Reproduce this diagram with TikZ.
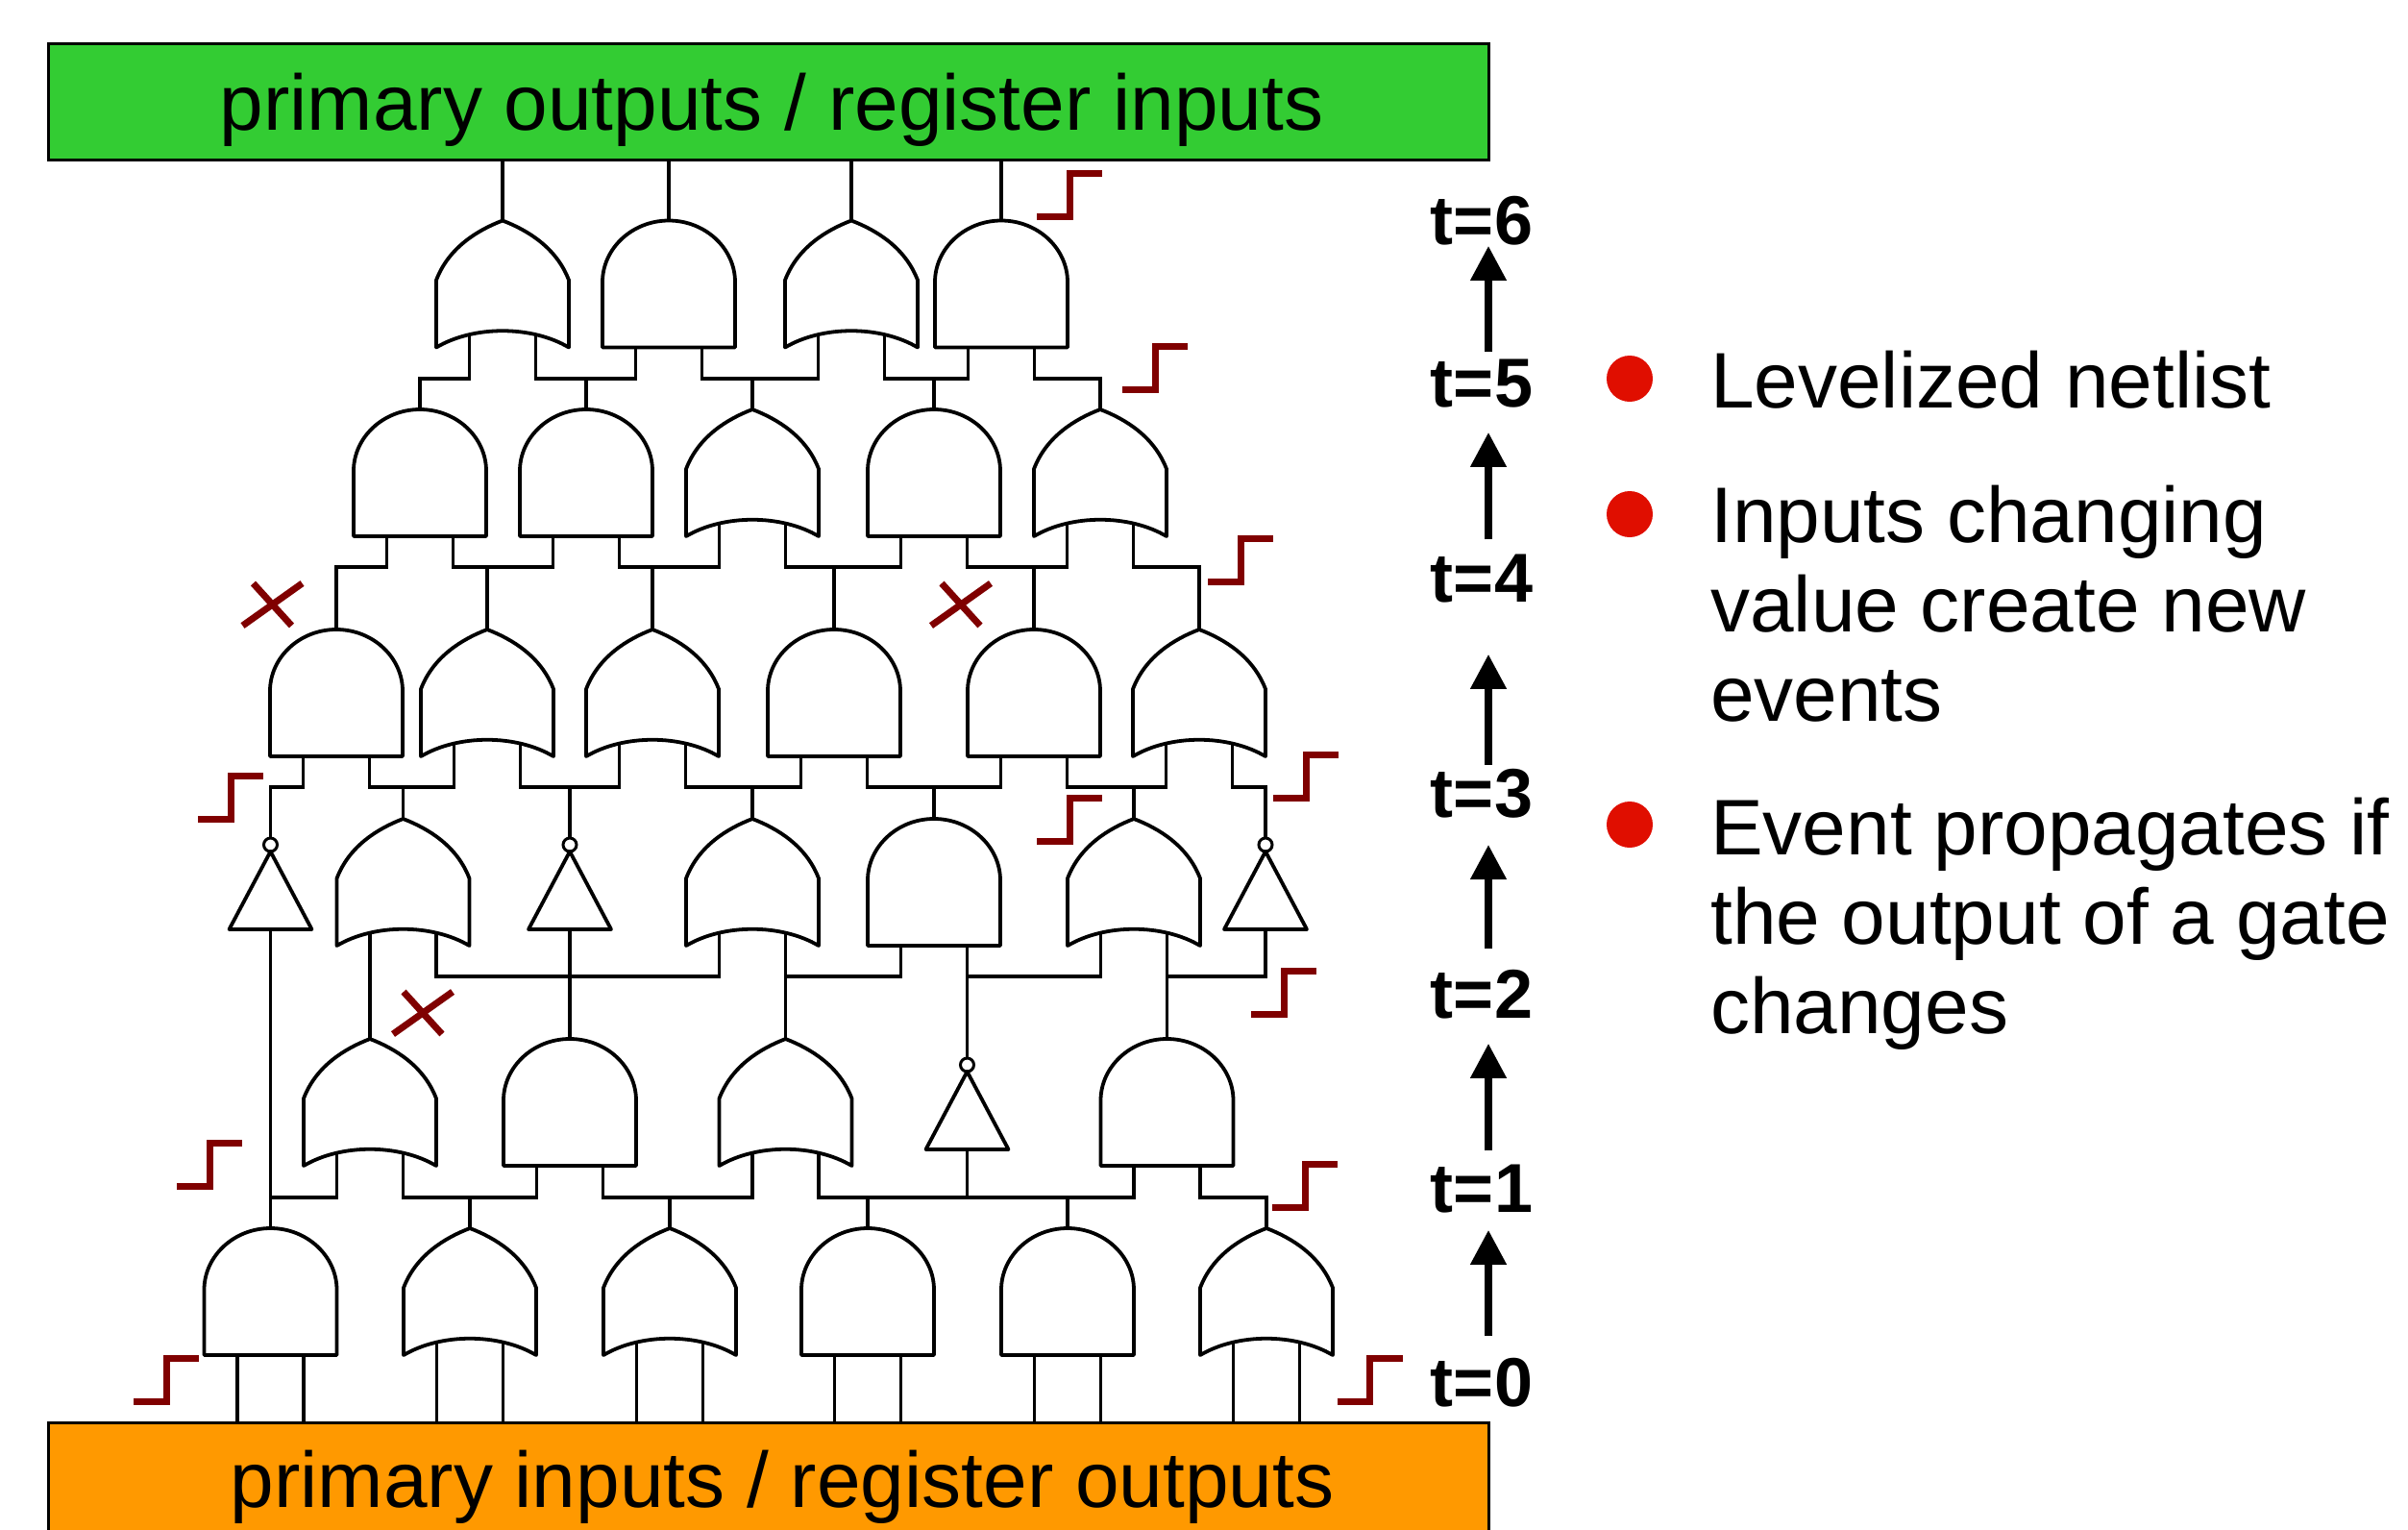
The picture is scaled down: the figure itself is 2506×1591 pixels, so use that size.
\documentclass[tikz,border=0pt]{standalone}
\usepackage{fontspec}
\setmainfont{Liberation Sans}
\usetikzlibrary{arrows.meta}

\definecolor{boxgreen}{HTML}{33CC33}
\definecolor{boxorange}{HTML}{FF9900}
\definecolor{eventred}{HTML}{800000}
\definecolor{bulletred}{HTML}{E00E00}

\tikzset{
  gatebox/.style={inner sep=0, outer sep=0, minimum width=138pt, minimum height=132pt},
  notbox/.style={inner sep=0, outer sep=0, minimum width=86pt, minimum height=95pt},
  gateline/.style={line width=3.8pt, line join=round},
  wire/.style={line width=3.2pt, line join=miter},
  railbox/.style={draw, line width=3pt},
  raillabel/.style={inner sep=0, anchor=base, font=\fontsize{82}{92}\selectfont},
  timelabel/.style={inner sep=0, anchor=base, font=\fontsize{72}{80}\selectfont\bfseries},
  timearrow/.style={line width=7.5pt, -{Triangle[length=36pt,width=36pt]}},
  bullettext/.style={inner sep=0, anchor=base west, align=left, font=\fontsize{82}{93}\selectfont},
  bulletdot/.style={circle, fill=bulletred, inner sep=0, minimum size=48pt},
  eventline/.style={draw=eventred, line width=7pt},
  risestep/.pic={\draw[eventline] (-34,22.5) -- (0,22.5) -- (0,-22.5) -- (34,-22.5);},
  deadmark/.pic={\draw[eventline] (-31,22) -- (31,-22) (-20,-22) -- (20,22);}
}

% name, x, y of the gate centre
\newcommand{\andgate}[3]{
  \node[gatebox] (#1) at (#2,#3) {};
  \draw[gateline] (#1.south west) -- (#1.south east) -- ++(0,-68)
    .. controls +(0,-35) and +(38,0) .. (#1.north)
    .. controls +(-38,0) and +(0,-35) .. ([yshift=68pt]#1.south west) -- cycle;
  \coordinate (#1l) at ([xshift=-34.5pt]#1.south);
  \coordinate (#1r) at ([xshift=34.5pt]#1.south);
}
\newcommand{\orgate}[3]{
  \node[gatebox] (#1) at (#2,#3) {};
  \draw[gateline] (#1.south west) .. controls +(39,-23) and +(-39,-23) .. (#1.south east)
    -- ++(0,-70) .. controls +(-13,-34) and +(26,10) .. (#1.north)
    .. controls +(-26,10) and +(13,-34) .. ([yshift=70pt]#1.south west) -- cycle;
  \coordinate (#1l) at ([xshift=-34.5pt,yshift=13.5pt]#1.south);
  \coordinate (#1r) at ([xshift=34.5pt,yshift=13.5pt]#1.south);
}
\newcommand{\notgate}[3]{
  \node[notbox] (#1) at (#2,#3) {};
  \draw[gateline] (#1.south west) -- (#1.south east) -- ([yshift=-14pt]#1.north) -- cycle;
  \draw[line width=3pt] ([yshift=-7pt]#1.north) circle (7);
}

\begin{document}
\begin{tikzpicture}[x=1pt, y=-1pt]
    \clip (0,0) rectangle (2506,1591);
    \fill[white] (0,0) rectangle (2506,1591);

    % rails
    \node[railbox, fill=boxgreen, inner sep=0, minimum width=1499pt, minimum height=121pt] (outrail) at (799.5,105.5) {};
    \node[railbox, fill=boxorange, inner sep=0, minimum width=1499pt, minimum height=240pt] (inrail) at (799.5,1600) {};
    \node[raillabel] (outlabel) at (803,135) {primary outputs / register inputs};
    \node[raillabel] (inlabel) at (814,1568) {primary inputs / register outputs};

    % bus heights
    \coordinate (bus5) at (0,394);
    \coordinate (bus4) at (0,590);
    \coordinate (bus3) at (0,819);
    \coordinate (bus2) at (0,1016);
    \coordinate (bus1) at (0,1246);

    % gates, bottom row first
    \andgate{a1}{281.5}{1344}
    \orgate{a2}{489}{1344}
    \orgate{a3}{697}{1344}
    \andgate{a4}{903}{1344}
    \andgate{a5}{1111}{1344}
    \orgate{a6}{1318}{1344}

    \orgate{b1}{385}{1147}
    \andgate{b2}{593}{1147}
    \orgate{b3}{817.5}{1147}
    \notgate{b4}{1006.5}{1148.5}
    \andgate{b5}{1214.5}{1147}

    \notgate{c1}{281.5}{919.5}
    \orgate{c2}{419.5}{918}
    \notgate{c3}{593}{919.5}
    \orgate{c4}{783}{918}
    \andgate{c5}{972}{918}
    \orgate{c6}{1180}{918}
    \notgate{c7}{1317}{919.5}

    \andgate{d1}{350}{721}
    \orgate{d2}{507}{721}
    \orgate{d3}{679}{721}
    \andgate{d4}{868}{721}
    \andgate{d5}{1076}{721}
    \orgate{d6}{1248}{721}

    \andgate{e1}{437}{492}
    \andgate{e2}{610}{492}
    \orgate{e3}{783}{492}
    \andgate{e4}{972}{492}
    \orgate{e5}{1145}{492}

    \orgate{f1}{523}{295.5}
    \andgate{f2}{696}{295.5}
    \orgate{f3}{886}{295.5}
    \andgate{f4}{1042}{295.5}

    % outputs into the top rail
    \draw[wire] (f1.north) -- (f1.north |- outrail.south);
    \draw[wire] (f2.north) -- (f2.north |- outrail.south);
    \draw[wire] (f3.north) -- (f3.north |- outrail.south);
    \draw[wire] (f4.north) -- (f4.north |- outrail.south);

    % row e to row f
    \draw[wire] (e1.north) -- (e1.north |- bus5) -| (f1l);
    \draw[wire] (f1r) -- (f1r |- bus5) -| (f2l);
    \draw[wire] (e2.north) -- (e2.north |- bus5);
    \draw[wire] (f2r) -- (f2r |- bus5) -| (f3l);
    \draw[wire] (e3.north) -- (e3.north |- bus5);
    \draw[wire] (f3r) -- (f3r |- bus5) -| (f4l);
    \draw[wire] (e4.north) -- (e4.north |- bus5);
    \draw[wire] (f4r) -- (f4r |- bus5) -| (e5.north);

    % row d to row e
    \draw[wire] (d1.north) -- (d1.north |- bus4) -| (e1l);
    \draw[wire] (e1r) -- (e1r |- bus4) -| (e2l);
    \draw[wire] (d2.north) -- (d2.north |- bus4);
    \draw[wire] (e2r) -- (e2r |- bus4) -| (e3l);
    \draw[wire] (d3.north) -- (d3.north |- bus4);
    \draw[wire] (e3r) -- (e3r |- bus4) -| (e4l);
    \draw[wire] (d4.north) -- (d4.north |- bus4);
    \draw[wire] (e4r) -- (e4r |- bus4) -| (e5l);
    \draw[wire] (d5.north) -- (d5.north |- bus4);
    \draw[wire] (e5r) -- (e5r |- bus4) -| (d6.north);

    % row c to row d
    \draw[wire] (c1.north) -- (c1.north |- bus3) -| (d1l);
    \draw[wire] (d1r) -- (d1r |- bus3) -| (d2l);
    \draw[wire] (c2.north) -- (c2.north |- bus3);
    \draw[wire] (d2r) -- (d2r |- bus3) -| (d3l);
    \draw[wire] (c3.north) -- (c3.north |- bus3);
    \draw[wire] (d3r) -- (d3r |- bus3) -| (d4l);
    \draw[wire] (c4.north) -- (c4.north |- bus3);
    \draw[wire] (d4r) -- (d4r |- bus3) -| (d5l);
    \draw[wire] (c5.north) -- (c5.north |- bus3);
    \draw[wire] (d5r) -- (d5r |- bus3) -| (d6l);
    \draw[wire] (c6.north) -- (c6.north |- bus3);
    \draw[wire] (d6r) -- (d6r |- bus3) -| (c7.north);

    % row b to row c
    \draw[wire] (b1.north) -- (c2l);
    \draw[wire] (c2r) -- (c2r |- bus2) -| (c4l);
    \draw[wire] (b2.north) -- (c3.south);
    \draw[wire] (b3.north) -- (c4r);
    \draw[wire] (c4r |- bus2) -| (c5l);
    \draw[wire] (b4.north) -- (c5r);
    \draw[wire] (c5r |- bus2) -| (c6l);
    \draw[wire] (b5.north) -- (c6r);
    \draw[wire] (c6r |- bus2) -| (c7.south);

    % row a to row b
    \draw[wire] (a1.north) -- (c1.south);
    \draw[wire] (c1.south |- bus1) -| (b1l);
    \draw[wire] (b1r) -- (b1r |- bus1) -| (b2l);
    \draw[wire] (a2.north) -- (a2.north |- bus1);
    \draw[wire] (b2r) -- (b2r |- bus1) -| (b3l);
    \draw[wire] (a3.north) -- (a3.north |- bus1);
    \draw[wire] (b3r) -- (b3r |- bus1) -| (b5l);
    \draw[wire] (a4.north) -- (a4.north |- bus1);
    \draw[wire] (b4.south) -- (b4.south |- bus1);
    \draw[wire] (a5.north) -- (a5.north |- bus1);
    \draw[wire] (b5r) -- (b5r |- bus1) -| (a6.north);

    % inputs from the bottom rail
    \draw[wire] (a1l) -- (a1l |- inrail.north);
    \draw[wire] (a1r) -- (a1r |- inrail.north);
    \draw[wire] (a2l) -- (a2l |- inrail.north);
    \draw[wire] (a2r) -- (a2r |- inrail.north);
    \draw[wire] (a3l) -- (a3l |- inrail.north);
    \draw[wire] (a3r) -- (a3r |- inrail.north);
    \draw[wire] (a4l) -- (a4l |- inrail.north);
    \draw[wire] (a4r) -- (a4r |- inrail.north);
    \draw[wire] (a5l) -- (a5l |- inrail.north);
    \draw[wire] (a5r) -- (a5r |- inrail.north);
    \draw[wire] (a6l) -- (a6l |- inrail.north);
    \draw[wire] (a6r) -- (a6r |- inrail.north);

    % rising edges and blocked events
    \pic at (173,1436) {risestep};
    \pic at (1425.5,1436) {risestep};
    \pic at (218,1212) {risestep};
    \pic at (1358,1234) {risestep};
    \pic at (1336,1033) {risestep};
    \pic at (1359,808) {risestep};
    \pic at (1113,853) {risestep};
    \pic at (240,830) {risestep};
    \pic at (1291,583) {risestep};
    \pic at (1202,383) {risestep};
    \pic at (1113,203) {risestep};
    \pic at (283.5,629) {deadmark};
    \pic at (1000,629) {deadmark};
    \pic at (440,1054) {deadmark};

    % time axis
    \node[timelabel] (t0) at (1542,1463) {t=0};
    \node[timelabel] (t1) at (1542,1261) {t=1};
    \node[timelabel] (t2) at (1542,1059) {t=2};
    \node[timelabel] (t3) at (1542,850) {t=3};
    \node[timelabel] (t4) at (1542,626) {t=4};
    \node[timelabel] (t5) at (1542,423) {t=5};
    \node[timelabel] (t6) at (1542,254) {t=6};
    \draw[timearrow, shorten <=23pt, shorten >=18pt] ([xshift=7pt]t0.north) -- ([xshift=7pt]t1.south);
    \draw[timearrow, shorten <=14pt, shorten >=26pt] ([xshift=7pt]t1.north) -- ([xshift=7pt]t2.south);
    \draw[timearrow, shorten <=22pt, shorten >=28pt] ([xshift=7pt]t2.north) -- ([xshift=7pt]t3.south);
    \draw[timearrow, shorten <=4pt, shorten >=54pt] ([xshift=7pt]t3.north) -- ([xshift=7pt]t4.south);
    \draw[timearrow, shorten <=15pt, shorten >=26pt] ([xshift=7pt]t4.north) -- ([xshift=7pt]t5.south);
    \draw[timearrow, shorten <=7pt, shorten >=1pt] ([xshift=7pt]t5.north) -- ([xshift=7pt]t6.south);

    % bullet list
    \node[bulletdot] (dot1) at (1696,394) {};
    \node[bulletdot] (dot2) at (1696,535) {};
    \node[bulletdot] (dot3) at (1696,858) {};
    \node[bullettext] (text1) at (1780,424) {Levelized netlist};
    \node[bullettext, anchor=north west] (text2) at (1780,505) {Inputs changing\\value create new\\events};
    \node[bullettext, anchor=north west] (text3) at (1780,830) {Event propagates if\\the output of a gate\\changes};
\end{tikzpicture}
\end{document}
